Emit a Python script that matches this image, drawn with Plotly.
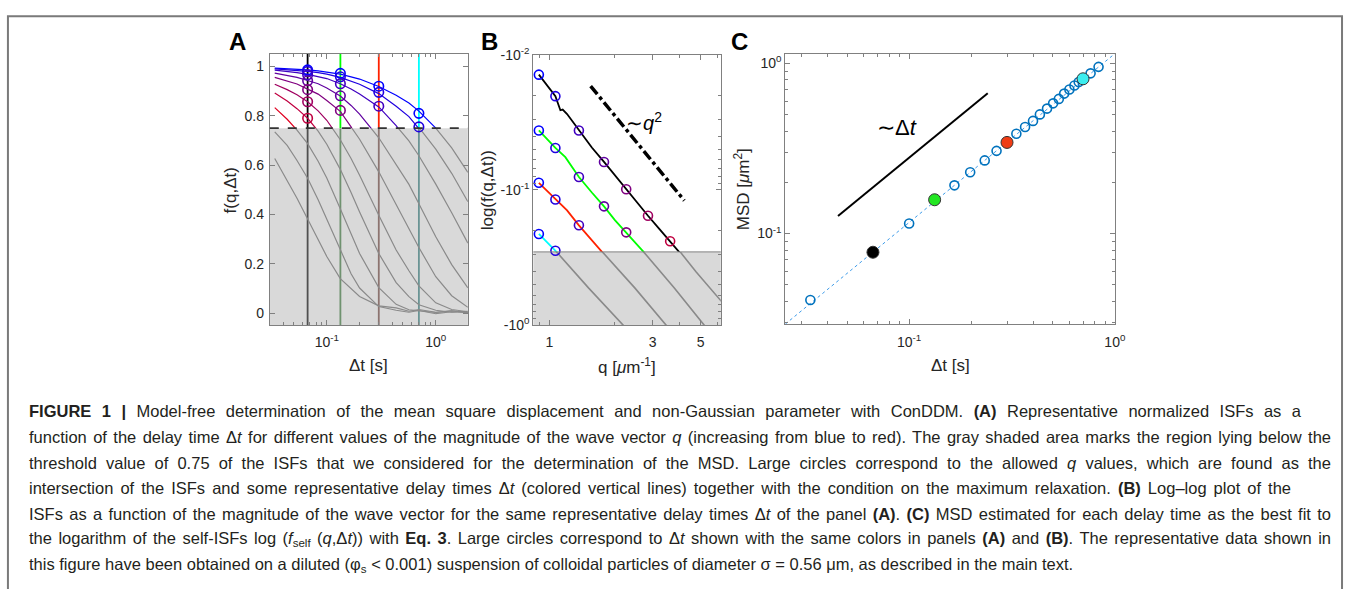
import math
import json
import plotly.graph_objects as go

W, H = 1356, 589

# ---------------- Panel A : ISFs vs delay time ----------------
dt_grid = [0.0333, 0.0433, 0.0533, 0.0667, 0.0833, 0.1, 0.133, 0.167, 0.2, 0.3, 0.433, 0.567, 0.7, 1.0, 1.4, 1.97]
isf_q1 = [0.993, 0.991, 0.989, 0.986, 0.982, 0.978, 0.969, 0.958, 0.949, 0.919, 0.883, 0.852, 0.819, 0.750, 0.670, 0.571]
isf_q2 = [0.990, 0.987, 0.984, 0.980, 0.975, 0.969, 0.956, 0.942, 0.928, 0.890, 0.839, 0.797, 0.753, 0.665, 0.567, 0.452]
isf_q3 = [0.985, 0.980, 0.975, 0.968, 0.960, 0.951, 0.930, 0.909, 0.888, 0.836, 0.760, 0.698, 0.638, 0.523, 0.407, 0.284]
isf_q4 = [0.973, 0.964, 0.956, 0.943, 0.930, 0.913, 0.880, 0.842, 0.807, 0.711, 0.604, 0.522, 0.444, 0.310, 0.197, 0.103]
isf_q5 = [0.956, 0.942, 0.929, 0.908, 0.888, 0.862, 0.818, 0.755, 0.705, 0.573, 0.440, 0.346, 0.266, 0.148, 0.071, 0.024]
isf_q6 = [0.928, 0.906, 0.885, 0.857, 0.820, 0.782, 0.703, 0.627, 0.559, 0.397, 0.256, 0.172, 0.111, 0.042, 0.015, 0.006]
isf_q7 = [0.892, 0.860, 0.829, 0.790, 0.738, 0.685, 0.583, 0.489, 0.410, 0.242, 0.124, 0.067, 0.034, 0.012, 0.004, 0.008]
isf_q8 = [0.833, 0.786, 0.742, 0.687, 0.616, 0.548, 0.423, 0.320, 0.242, 0.104, 0.036, 0.014, 0.009, 0.003, 0.010, 0.002]
isf_q9 = [0.735, 0.680, 0.619, 0.547, 0.460, 0.381, 0.252, 0.160, 0.102, 0.027, 0.012, 0.004, 0.011, -0.002, 0.006, 0.003]
isf_q10 = [0.627, 0.540, 0.466, 0.382, 0.300, 0.230, 0.140, 0.100, 0.068, 0.030, 0.022, 0.008, 0.015, 0.004, 0.010, 0.002]
isf_curves = [isf_q1, isf_q2, isf_q3, isf_q4, isf_q5, isf_q6, isf_q7, isf_q8, isf_q9, isf_q10]
q_colors = ['#0000ff', '#2000e0', '#4000c0', '#6000a0', '#800080',
            '#a00060', '#c00040', '#e00020', '#ff0000', '#ff0000']
n_colored = 8
threshold = 0.75

# representative delay times (s) and their colours
dt_rep = [0.0667, 0.1333, 0.3, 0.7]
rep_colors = ['#000000', '#00ff00', '#ff2200', '#00ffff']
rep_muted = ['#505050', '#6f926f', '#8c7470', '#6a9494']

# allowed (q, dt) circles on panel A, one list per representative dt
circA_f = [
    [0.986, 0.980, 0.966, 0.942, 0.906, 0.857, 0.790],
    [0.972, 0.958, 0.930, 0.881, 0.822],
    [0.920, 0.895, 0.839],
    [0.810, 0.755],
]

# ---------------- Panel B : -log f vs q ----------------
q_circ = [0.893, 1.065, 1.368, 1.787, 2.264, 2.855, 3.615]
circB_v = [
    [0.01407, 0.0203, 0.0364, 0.0622, 0.099, 0.1556, 0.240],
    [0.0364, 0.049, 0.0804, 0.1325, 0.2063],
    [0.0887, 0.118, 0.183],
    [0.212, 0.282],
]
b_black_q = [0.893, 1.011, 1.065, 1.123, 1.151, 1.206, 1.368, 1.57, 1.787, 2.007, 2.264, 2.554, 2.855, 3.227, 3.615, 4.03, 4.76, 6.3]
b_black_v = [0.01407, 0.01803, 0.0203, 0.0258, 0.0255, 0.0275, 0.0364, 0.0486, 0.0622, 0.0783, 0.099, 0.1259, 0.1556, 0.195, 0.240, 0.2887, 0.404, 0.68]
b_green_q = [0.893, 0.98, 1.065, 1.184, 1.368, 1.57, 1.787, 2.007, 2.264, 2.73, 3.78, 5.19, 5.6]
b_green_v = [0.0364, 0.0425, 0.049, 0.0573, 0.0804, 0.1047, 0.1325, 0.1675, 0.2063, 0.2887, 0.531, 1.0, 1.17]
b_red_q = [0.893, 1.065, 1.206, 1.368, 1.76, 2.48, 3.46, 3.8]
b_red_v = [0.0887, 0.118, 0.142, 0.183, 0.2887, 0.531, 1.0, 1.2]
b_cyan_q = [0.893, 1.065, 1.08, 1.515, 2.19, 2.4]
b_cyan_v = [0.212, 0.282, 0.2887, 0.531, 1.0, 1.2]
b_curves = [(b_black_q, b_black_v), (b_green_q, b_green_v), (b_red_q, b_red_v), (b_cyan_q, b_cyan_v)]
q2_guide_q = [1.55, 4.2]
q2_guide_v = [0.0171, 0.120]

# ---------------- Panel C : MSD ----------------
dt_c = [0.0331, 0.0667, 0.1, 0.133, 0.166, 0.198, 0.233, 0.266, 0.299, 0.332, 0.366, 0.400,
        0.432, 0.468, 0.501, 0.534, 0.567, 0.601, 0.636, 0.667, 0.700, 0.762, 0.833]
msd_c = [0.0407, 0.0777, 0.1146, 0.158, 0.192, 0.229, 0.269, 0.306, 0.343, 0.386, 0.423, 0.459,
         0.501, 0.542, 0.582, 0.618, 0.664, 0.702, 0.740, 0.776, 0.811, 0.873, 0.953]
rep_index = [1, 3, 8, 20]
rep_fill = ['#000000', '#22e622', '#f03c14', '#3ceef0']
fit_dt = [0.025, 1.0]
fit_msd = [0.0294, 1.14]
slope_dt = [0.0451, 0.241]
slope_msd = [0.127, 0.667]

# ---------------- geometry (pixels) ----------------
A_box = (272, 471.7, 45, 325)
B_box = (537.7, 726.7, 46, 325)
C_box = (791.7, 1124, 45, 324)
A_xr = [math.log10(0.030), math.log10(1.97)]
A_yr = [-0.048, 1.052]
B_xr = [math.log10(0.842), math.log10(6.2)]
B_yr = [0.0, -2.0]
C_xr = [math.log10(0.025), 0.0]
C_yr = [math.log10(0.0294), math.log10(1.14)]
thrB = -math.log(threshold)

def dx(b):
    return [b[0] / W, b[1] / W]

def dy(top, bot):
    return [1 - bot / H, 1 - top / H]

A_thr_px = A_box[3] - (threshold - A_yr[0]) / (A_yr[1] - A_yr[0]) * (A_box[3] - A_box[2])
B_thr_px = B_box[3] - (B_yr[0] - math.log10(thrB)) / (B_yr[0] - B_yr[1]) * (B_box[3] - B_box[2])

FONT = 'Liberation Sans, Arial, sans-serif'
AX = '#808080'
TXT = '#262626'

fig = go.Figure()

# ---- Panel A: low (shaded) part, gray curves ----
for k, dt in enumerate(dt_rep):
    fig.add_trace(go.Scatter(x=[dt, dt], y=[A_yr[0], threshold], mode='lines',
                             line=dict(color=rep_muted[k], width=1.8), xaxis='x', yaxis='y',
                             hoverinfo='skip', showlegend=False))
for c in isf_curves:
    fig.add_trace(go.Scatter(x=dt_grid, y=c, mode='lines', line=dict(color='#8a8a8a', width=1.2),
                             xaxis='x', yaxis='y', hoverinfo='skip', showlegend=False))
# ---- Panel A: high part, coloured curves ----
for k, dt in enumerate(dt_rep):
    fig.add_trace(go.Scatter(x=[dt, dt], y=[threshold, A_yr[1]], mode='lines',
                             line=dict(color=rep_colors[k], width=1.8), xaxis='x2', yaxis='y2',
                             hoverinfo='skip', showlegend=False))
for i in range(n_colored):
    fig.add_trace(go.Scatter(x=dt_grid, y=isf_curves[i], mode='lines',
                             line=dict(color=q_colors[i], width=1.2),
                             xaxis='x2', yaxis='y2', hoverinfo='skip', showlegend=False))
for k, dt in enumerate(dt_rep):
    fv = circA_f[k]
    fig.add_trace(go.Scatter(x=[dt] * len(fv), y=fv, mode='markers', cliponaxis=False,
                             marker=dict(symbol='circle-open', size=9.5, color=q_colors[:len(fv)],
                                         line=dict(width=1.6)),
                             xaxis='x2', yaxis='y2', hoverinfo='skip', showlegend=False))
fig.add_trace(go.Scatter(x=[], y=[], xaxis='x3', yaxis='y3', showlegend=False))

# ---- Panel B ----
for (qq, vv) in b_curves:
    fig.add_trace(go.Scatter(x=qq, y=vv, mode='lines', line=dict(color='#8a8a8a', width=1.6),
                             xaxis='x4', yaxis='y4', hoverinfo='skip', showlegend=False))
for k, (qq, vv) in enumerate(b_curves):
    fig.add_trace(go.Scatter(x=qq, y=vv, mode='lines', line=dict(color=rep_colors[k], width=1.8),
                             xaxis='x5', yaxis='y5', hoverinfo='skip', showlegend=False))
fig.add_trace(go.Scatter(x=q2_guide_q, y=q2_guide_v, mode='lines',
                         line=dict(color='black', width=3.5, dash='dashdot'),
                         xaxis='x5', yaxis='y5', hoverinfo='skip', showlegend=False))
for k, vv in enumerate(circB_v):
    fig.add_trace(go.Scatter(x=q_circ[:len(vv)], y=vv, mode='markers', cliponaxis=False,
                             marker=dict(symbol='circle-open', size=9, color=q_colors[:len(vv)],
                                         line=dict(width=1.6)),
                             xaxis='x5', yaxis='y5', hoverinfo='skip', showlegend=False))
fig.add_trace(go.Scatter(x=[], y=[], xaxis='x6', yaxis='y6', showlegend=False))

# ---- Panel C ----
fig.add_trace(go.Scatter(x=fit_dt, y=fit_msd, mode='lines', line=dict(color='#3d9be9', width=1, dash='dot'),
                         xaxis='x7', yaxis='y7', hoverinfo='skip', showlegend=False))
fig.add_trace(go.Scatter(x=slope_dt, y=slope_msd, mode='lines', line=dict(color='black', width=2),
                         xaxis='x7', yaxis='y7', hoverinfo='skip', showlegend=False))
fig.add_trace(go.Scatter(x=dt_c, y=msd_c, mode='markers', cliponaxis=False,
                         marker=dict(symbol='circle-open', size=9, color='#0072BD', line=dict(width=1.6)),
                         xaxis='x7', yaxis='y7', hoverinfo='skip', showlegend=False))
fig.add_trace(go.Scatter(x=[dt_c[i] for i in rep_index], y=[msd_c[i] for i in rep_index], mode='markers',
                         cliponaxis=False,
                         marker=dict(symbol='circle', size=12, color=rep_fill, line=dict(color='#333333', width=1)),
                         xaxis='x7', yaxis='y7', hoverinfo='skip', showlegend=False))

def minor_log(lo, hi):
    vals = []
    for e in range(-3, 2):
        for d in range(2, 10):
            v = d * 10 ** e
            if lo < v < hi:
                vals.append(v)
    return vals

hidden = dict(visible=False, fixedrange=True, showgrid=False, zeroline=False)

def main_axis(**kw):
    d = dict(showline=True, linecolor=AX, linewidth=1, mirror='ticks', ticks='inside', ticklen=5,
             tickcolor=AX, tickfont=dict(family=FONT, size=14, color=TXT), showgrid=False,
             zeroline=False, fixedrange=True, tickmode='array')
    d.update(kw)
    return d

minor_style = dict(ticks='inside', ticklen=3, tickcolor=AX, showgrid=False)

layout = dict(
    width=W, height=H, margin=dict(l=0, r=0, t=0, b=0), autosize=False,
    paper_bgcolor='white', plot_bgcolor='rgba(0,0,0,0)', showlegend=False,
    xaxis=dict(hidden, type='log', range=A_xr, domain=dx(A_box), anchor='y'),
    yaxis=dict(hidden, range=[A_yr[0], threshold], domain=dy(A_thr_px, A_box[3]), anchor='x'),
    xaxis2=dict(hidden, type='log', range=A_xr, domain=dx(A_box), anchor='y2'),
    yaxis2=dict(hidden, range=[threshold, A_yr[1]], domain=dy(A_box[2], A_thr_px), anchor='x2'),
    xaxis3=main_axis(type='log', range=A_xr, domain=dx(A_box), anchor='y3', ticklabelstandoff=4,
                     tickvals=[0.1, 1], ticktext=['10<sup>-1</sup>', '10<sup>0</sup>'],
                     minor=dict(minor_style, tickvals=minor_log(0.030, 1.97))),
    yaxis3=main_axis(range=A_yr, domain=dy(A_box[2], A_box[3]), anchor='x3', ticklabelstandoff=2,
                     tickvals=[0, 0.2, 0.4, 0.6, 0.8, 1], ticktext=['0', '0.2', '0.4', '0.6', '0.8', '1']),
    xaxis4=dict(hidden, type='log', range=B_xr, domain=dx(B_box), anchor='y4'),
    yaxis4=dict(hidden, type='log', range=[B_yr[0], math.log10(thrB)], domain=dy(B_thr_px, B_box[3]), anchor='x4'),
    xaxis5=dict(hidden, type='log', range=B_xr, domain=dx(B_box), anchor='y5'),
    yaxis5=dict(hidden, type='log', range=[math.log10(thrB), B_yr[1]], domain=dy(B_box[2], B_thr_px), anchor='x5'),
    xaxis6=main_axis(type='log', range=B_xr, domain=dx(B_box), anchor='y6', ticklabelstandoff=4,
                     tickvals=[1, 3, 5], ticktext=['1', '3', '5'],
                     minor=dict(minor_style, tickvals=[0.9, 2, 4, 6])),
    yaxis6=main_axis(type='log', range=B_yr, domain=dy(B_box[2], B_box[3]), anchor='x6',
                     tickvals=[0.01, 0.1, 1], ticktext=['-10<sup>-2</sup>', '-10<sup>-1</sup>', '-10<sup>0</sup>'],
                     minor=dict(minor_style, tickvals=minor_log(0.01, 1))),
    xaxis7=main_axis(type='log', range=C_xr, domain=dx(C_box), anchor='y7', ticklabelstandoff=5,
                     tickvals=[0.1, 1], ticktext=['10<sup>-1</sup>', '10<sup>0</sup>'],
                     minor=dict(minor_style, tickvals=minor_log(0.025, 1))),
    yaxis7=main_axis(type='log', range=C_yr, domain=dy(C_box[2], C_box[3]), anchor='x7',
                     tickvals=[0.1, 1], ticktext=['10<sup>-1</sup>', '10<sup>0</sup>'],
                     minor=dict(minor_style, tickvals=minor_log(0.0294, 1.14))),
)
fig.update_layout(**layout)

shapes = []
shapes.append(dict(type='rect', xref='paper', yref='paper', x0=8 / W, x1=1353 / W, y0=-0.05, y1=1 - 6.5 / H,
                   line=dict(color='#7a7a7a', width=2), fillcolor='rgba(0,0,0,0)', layer='below'))
shapes.append(dict(type='rect', xref='paper', yref='paper', x0=A_box[0] / W, x1=A_box[1] / W,
                   y0=1 - A_box[3] / H, y1=1 - A_thr_px / H, fillcolor='#d9d9d9', line=dict(width=0), layer='below'))
shapes.append(dict(type='rect', xref='paper', yref='paper', x0=B_box[0] / W, x1=B_box[1] / W,
                   y0=1 - B_box[3] / H, y1=1 - B_thr_px / H, fillcolor='#d9d9d9', line=dict(width=0), layer='below'))
shapes.append(dict(type='line', xref='paper', yref='paper', x0=A_box[0] / W, x1=A_box[1] / W,
                   y0=1 - A_thr_px / H, y1=1 - A_thr_px / H, line=dict(color='#333333', width=1.6, dash='dash'),
                   layer='above'))
shapes.append(dict(type='line', xref='paper', yref='paper', x0=B_box[0] / W, x1=B_box[1] / W,
                   y0=1 - B_thr_px / H, y1=1 - B_thr_px / H, line=dict(color='#808080', width=1), layer='above'))
fig.update_layout(shapes=shapes)

ann = []
def px_ann(text, x, y, size=15, bold=False, angle=0, xanchor='center', color=TXT, family=FONT, align='center'):
    ann.append(dict(text=('<b>%s</b>' % text) if bold else text, x=x / W, y=1 - y / H, xref='paper', yref='paper',
                    showarrow=False, xanchor=xanchor, yanchor='middle', textangle=angle, align=align,
                    font=dict(family=family, size=size, color=color)))

px_ann('A', 239, 33, size=24, bold=True, color='black')
px_ann('B', 494, 33, size=24, bold=True, color='black')
px_ann('C', 746, 33, size=24, bold=True, color='black')
px_ann('f(q,\u0394t)', 232, 186, size=17, angle=-90)
px_ann('\u0394t [s]', 372, 367, size=17)
px_ann('log(f(q,\u0394t))', 491, 186, size=17, angle=-90)
px_ann('q [<i>\u03bc</i>m<sup>-1</sup>]', 632, 367, size=17)
px_ann('MSD [<i>\u03bc</i>m<sup>2</sup>]', 748, 185, size=17, angle=-90)
px_ann('\u0394t [s]', 958, 367, size=17)

ann.append(dict(text='\u223c<i>q</i><sup>2</sup>', x=math.log10(2.75), y=math.log10(0.0315), xref='x5', yref='y5',
                showarrow=False, font=dict(family=FONT, size=20, color='black')))
ann.append(dict(text='\u223c\u0394<i>t</i>', x=math.log10(0.0877), y=math.log10(0.418), xref='x7', yref='y7',
                showarrow=False, font=dict(family=FONT, size=22, color='black')))

caption_lines = [
    '<b>FIGURE 1 |</b> Model-free determination of the mean square displacement and non-Gaussian parameter with ConDDM. <b>(A)</b> Representative normalized ISFs as a',
    'function of the delay time \u0394<i>t</i> for different values of the magnitude of the wave vector <i>q</i> (increasing from blue to red). The gray shaded area marks the region lying below the',
    'threshold value of 0.75 of the ISFs that we considered for the determination of the MSD. Large circles correspond to the allowed <i>q</i> values, which are found as the',
    'intersection of the ISFs and some representative delay times \u0394<i>t</i> (colored vertical lines) together with the condition on the maximum relaxation. <b>(B)</b> Log\u2013log plot of the',
    'ISFs as a function of the magnitude of the wave vector for the same representative delay times \u0394<i>t</i> of the panel <b>(A)</b>. <b>(C)</b> MSD estimated for each delay time as the best fit to',
    'the logarithm of the self-ISFs log (<i>f</i><sub>self</sub> (<i>q</i>,\u0394<i>t</i>)) with <b>Eq. 3</b>. Large circles correspond to \u0394<i>t</i> shown with the same colors in panels <b>(A)</b> and <b>(B)</b>. The representative data shown in',
    'this figure have been obtained on a diluted (\u03c6<sub>s</sub> &lt; 0.001) suspension of colloidal particles of diameter \u03c3 = 0.56 \u03bcm, as described in the main text.',
]
caption_right = [1300, 1330, 1330, 1290, 1330, 1330, 0]
cap_x0 = 27
cap_start = len(ann)
for i, line in enumerate(caption_lines):
    px_ann(line, cap_x0, 414 + i * 26.4, size=16.5, xanchor='left', color='#231f20', align='left')
cap_idx = [cap_start + i for i in range(len(caption_lines))]
cap_w = [(r - cap_x0 - 1) if r > 0 else 0 for r in caption_right]

fig.update_layout(annotations=ann)

post = """
var gd = document.getElementById('{plot_id}');
var idx = %s; var tw = %s;
gd.querySelectorAll('g.annotation').forEach(function(g){
  var i = +g.getAttribute('data-index'); var k = idx.indexOf(i);
  if (k < 0 || tw[k] <= 0) return;
  var t = g.querySelector('text.annotation-text'); if (!t) return;
  var w = t.getComputedTextLength(); var n = (t.textContent.match(/ /g) || []).length;
  if (n > 0 && tw[k] > w) { t.style.wordSpacing = ((tw[k] - w) / n) + 'px'; }
});
document.body.style.margin = '0px';
""" % (json.dumps(cap_idx), json.dumps(cap_w))

fig.write_html('out.html', post_script=post, config={'displayModeBar': False})
